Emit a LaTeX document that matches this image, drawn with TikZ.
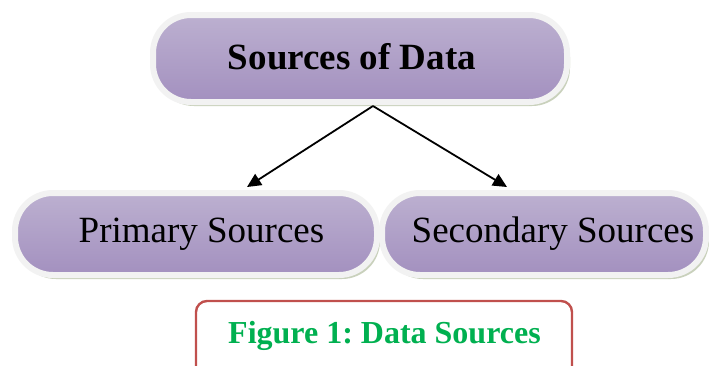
\documentclass[tikz,border=0pt]{standalone}
\usepackage{fontspec}
\setmainfont{Liberation Serif}
\frenchspacing
\usetikzlibrary{shadows,arrows.meta,calc}
\definecolor{pilltop}{RGB}{188,176,208}
\definecolor{pillbot}{RGB}{163,144,191}
\definecolor{rim}{RGB}{242,242,242}
\definecolor{shade}{RGB}{188,198,172}
\definecolor{capred}{RGB}{192,80,77}
\definecolor{capgreen}{RGB}{0,176,80}
\tikzset{
  pill/.style={draw=rim, line width=6pt, top color=pilltop, bottom color=pillbot,
    rounded corners=38pt, inner sep=0pt, text=black,
    drop shadow={shadow xshift=3pt, shadow yshift=-4pt, fill=shade, opacity=0.8}},
  link/.style={line width=1.8pt, -{Triangle[length=14pt,width=13pt]}},
  capframe/.style={draw=capred, line width=2.4pt, rounded corners=11pt},
}
\begin{document}
\begin{tikzpicture}[x=1pt,y=-1pt]
  \clip (0,0) rectangle (709,365);
  \fill[white] (0,0) rectangle (709,365);

  % top node
  \node[pill, minimum width=414pt, minimum height=87pt] (top) at (360,58.5)
    {\raisebox{4pt}{\fontsize{37}{40}\selectfont\bfseries Sources of Data}\kern16pt};

  % two branches
  \node[pill, minimum width=362pt, minimum height=82pt] (prim) at (196,234)
    {\kern11pt\raisebox{-1pt}{\fontsize{37}{40}\selectfont Primary Sources}};
  \node[pill, minimum width=324pt, minimum height=82pt] (sec) at (544,234)
    {\kern18pt\raisebox{-1pt}{\fontsize{37}{40}\selectfont Secondary Sources}};

  % connectors
  \coordinate (fork) at ($(top.south)+(13,1)$);
  \draw[link] (fork) -- ($(prim.north)+(51,-3)$);
  \draw[link] (fork) -- ($(sec.north)+(-37,-3)$);

  % caption
  \draw[capframe] (196,301) rectangle (572,390);
  \node[text=capgreen, font=\fontsize{32}{36}\selectfont\bfseries] (cap) at (384.5,336)
    {Figure 1: Data Sources};
\end{tikzpicture}
\end{document}
